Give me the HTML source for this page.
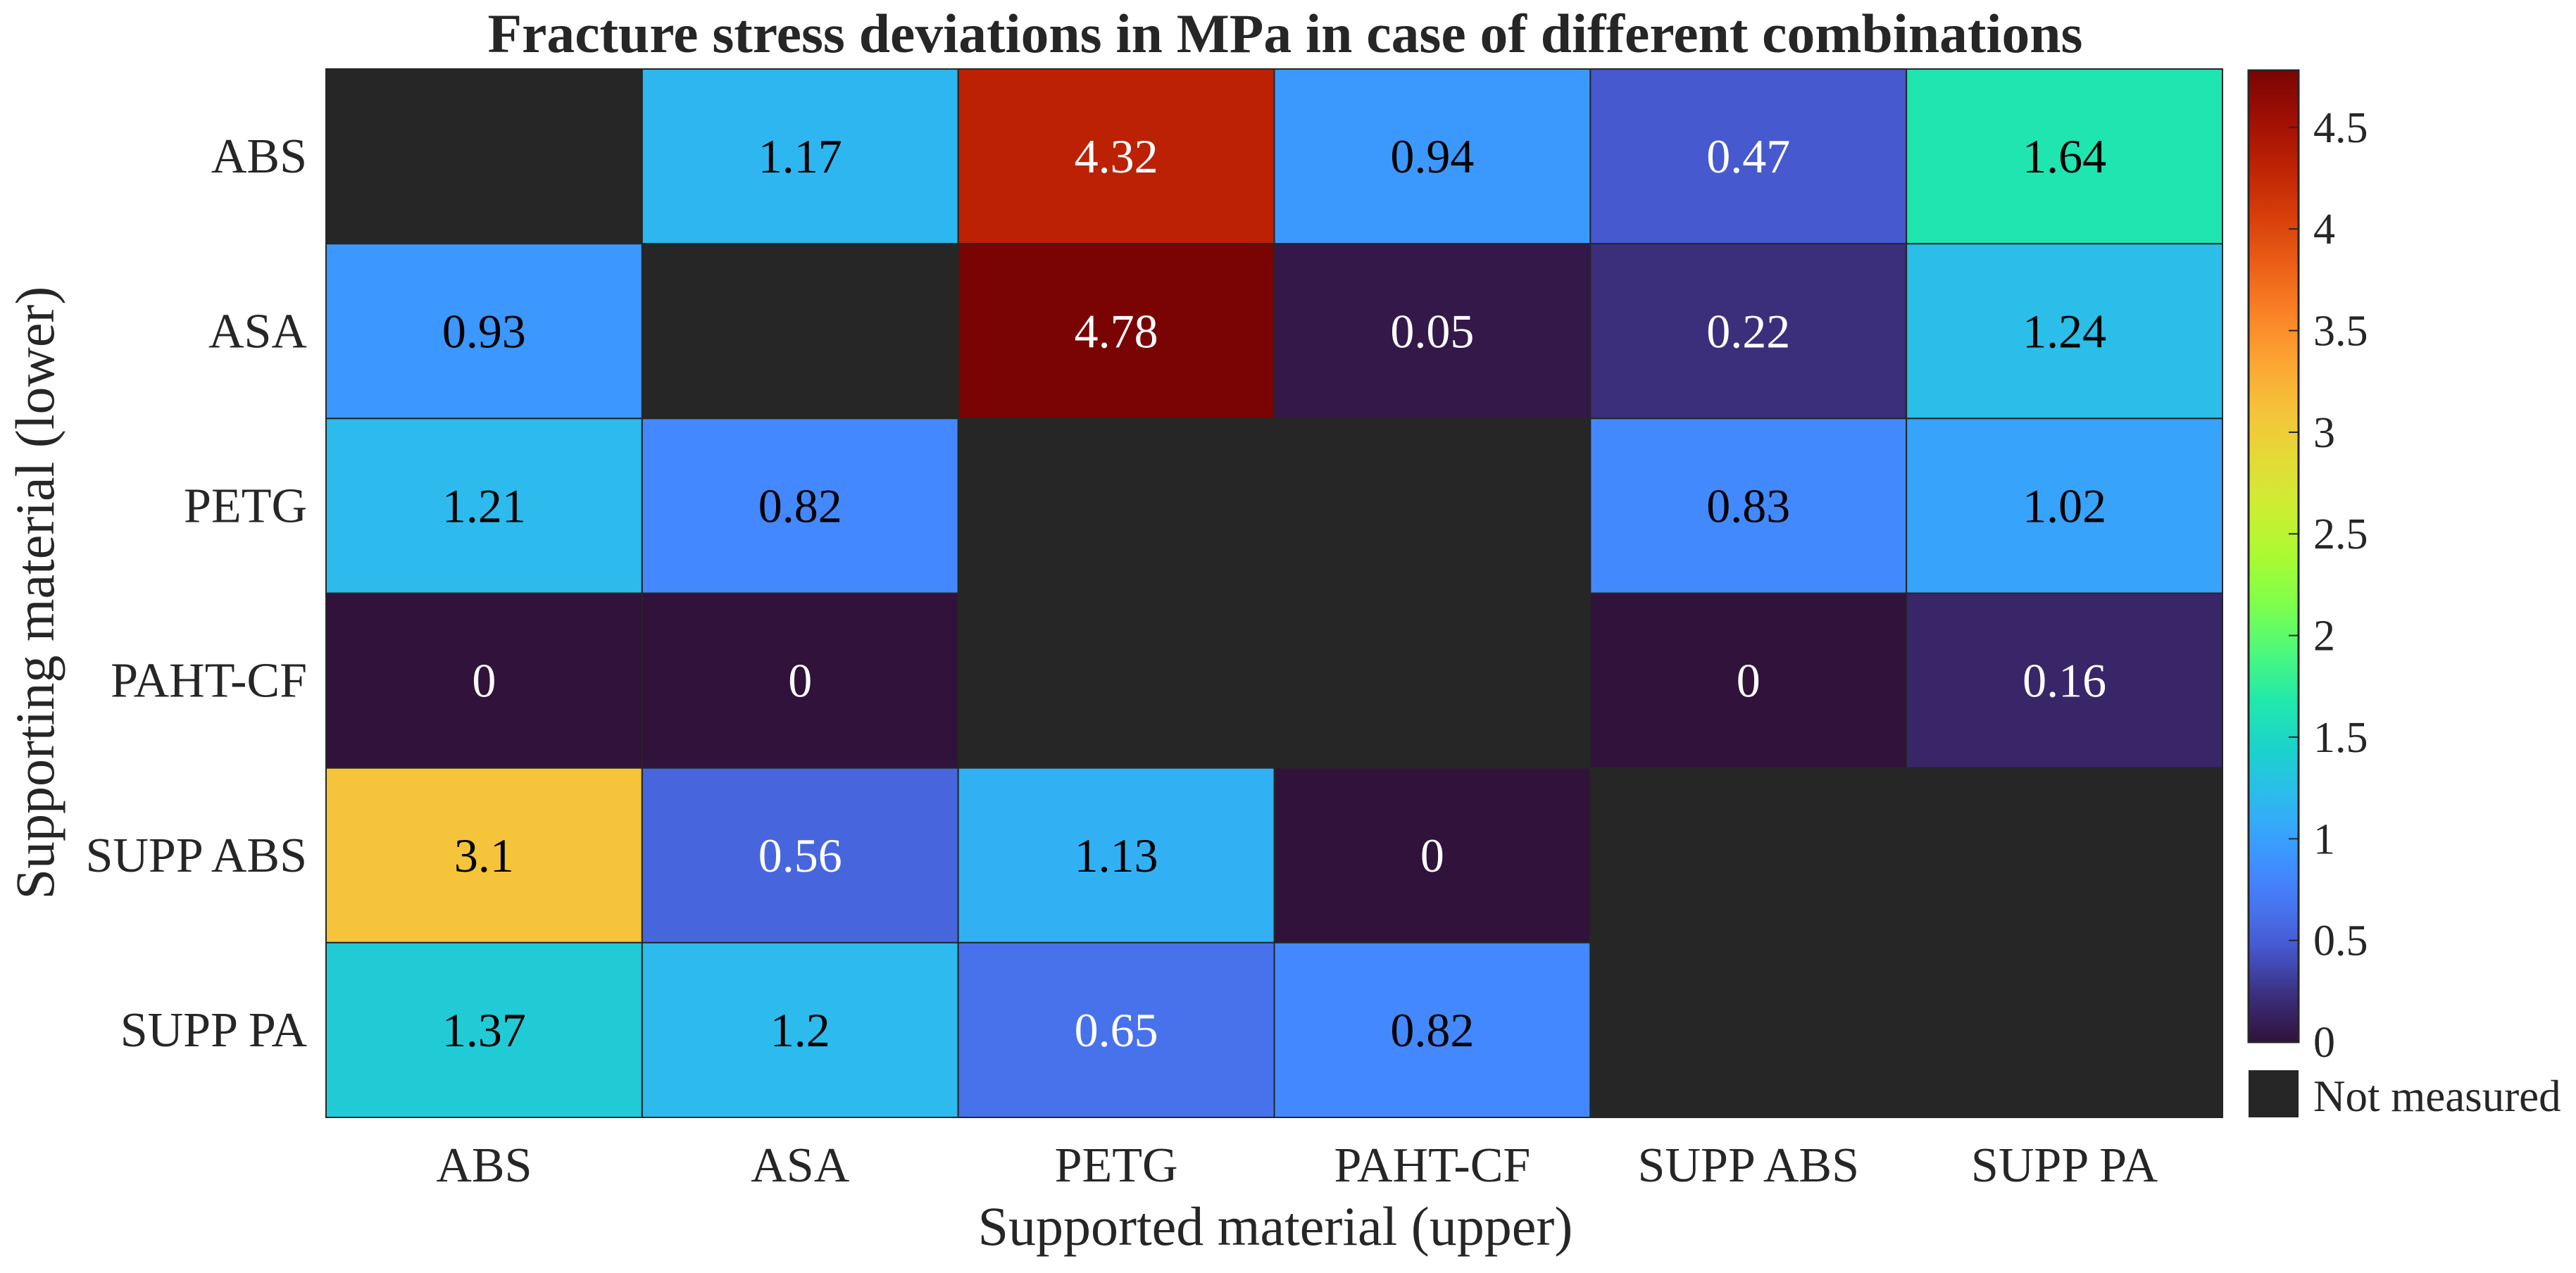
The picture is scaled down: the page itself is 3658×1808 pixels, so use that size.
<!DOCTYPE html>
<html><head><meta charset="utf-8"><style>
html,body{margin:0;padding:0;background:#fff;}
svg{display:block;font-family:"Liberation Serif",serif;}
</style></head><body>
<svg id="chart" width="3658" height="1808" viewBox="0 0 3658 1808" xmlns="http://www.w3.org/2000/svg">
<defs><linearGradient id="cbgrad" x1="0" y1="1" x2="0" y2="0"></linearGradient></defs>
<text x="1825" y="74" text-anchor="middle" font-weight="bold" font-size="78" textLength="2265" lengthAdjust="spacingAndGlyphs" fill="#262626">Fracture stress deviations in MPa in case of different combinations</text>
<g id="cells"></g>
<g id="ylabels"></g>
<g id="xlabels"></g>
<text x="1811" y="1768" text-anchor="middle" font-size="78" fill="#262626">Supported material (upper)</text>
<text transform="translate(76,842) rotate(-90)" text-anchor="middle" font-size="78" fill="#262626">Supporting material (lower)</text>
<rect x="3193" y="100" width="71" height="1380" fill="url(#cbgrad)" stroke="#262626" stroke-width="3"/>
<g id="cbticks"></g>
<rect x="3193" y="1520" width="71" height="67" fill="#262626"/>
<text x="3285" y="1578" font-size="63" fill="#262626">Not measured</text>
</svg>
<script>
const rowLabels = ["ABS","ASA","PETG","PAHT-CF","SUPP ABS","SUPP PA"];
const colLabels = ["ABS","ASA","PETG","PAHT-CF","SUPP ABS","SUPP PA"];
const row0 = [null,1.17,4.32,0.94,0.47,1.64];
const row1 = [0.93,null,4.78,0.05,0.22,1.24];
const row2 = [1.21,0.82,null,null,0.83,1.02];
const row3 = [0,0,null,null,0,0.16];
const row4 = [3.1,0.56,1.13,0,null,null];
const row5 = [1.37,1.2,0.65,0.82,null,null];
const cbTicks = [0,0.5,1,1.5,2,2.5,3,3.5,4,4.5];
const cmin = 0, cmax = 4.78;

const NS="http://www.w3.org/2000/svg";
const L=463,R=3156,T=98,B=1587;
const rows=[row0,row1,row2,row3,row4,row5];
const cw=(R-L)/colLabels.length, rh=(B-T)/rowLabels.length;
const xPos=i=>L+i*cw, yPos=j=>T+j*rh;
const CB_T=100,CB_B=1480;
const cbY=v=>CB_B-(v-cmin)/(cmax-cmin)*(CB_B-CB_T);
const cmapPos=[0,0.05,0.1,0.125,0.15,0.175,0.2,0.225,0.25,0.3,0.35,0.4,0.45,0.5,0.55,0.6,0.65,0.7,0.75,0.8,0.85,0.9,0.95,1];
const cmapCol=[[48,18,59],[60,48,128],[70,90,210],[71,108,228],[70,122,245],[66,138,255],[58,155,254],[52,170,248],[45,185,238],[28,210,205],[32,232,172],[75,248,125],[125,255,75],[170,250,50],[205,238,50],[228,218,55],[245,195,58],[252,165,50],[250,130,38],[235,95,22],[215,62,10],[190,35,4],[160,15,3],[122,4,3]];
function cmap(x){x=Math.max(0,Math.min(1,x));
 for(let k=1;k<cmapPos.length;k++){if(x<=cmapPos[k]){const t=(x-cmapPos[k-1])/(cmapPos[k]-cmapPos[k-1]);
  return cmapCol[k].map((c,m)=>Math.round(cmapCol[k-1][m]+(c-cmapCol[k-1][m])*t));}}
 return cmapCol[cmapCol.length-1];}
function mk(tag,attrs,parent){const e=document.createElementNS(NS,tag);for(const k in attrs)e.setAttribute(k,attrs[k]);parent.appendChild(e);return e;}
const cells=document.getElementById('cells');
rows.forEach((row,j)=>row.forEach((v,i)=>{
 let fill='#262626',rgb=null;
 if(v!==null){rgb=cmap((v-cmin)/(cmax-cmin));fill='rgb('+rgb.join(',')+')';}
 const r=mk('rect',{x:xPos(i),y:yPos(j),width:cw,height:rh,fill:fill,stroke:'#262626','stroke-width':2},cells);
 
 
 if(v!==null){
  const lum=(0.299*rgb[0]+0.587*rgb[1]+0.114*rgb[2])/255;
  const t=mk('text',{x:xPos(i)+cw/2,y:yPos(j)+rh/2+23,'text-anchor':'middle','font-size':68,fill:lum>0.48?'#000':'#fff'},cells);
  
  
  t.textContent=String(v);
 }
}));
const yl=document.getElementById('ylabels');
rowLabels.forEach((s,j)=>{const t=mk('text',{x:436,y:yPos(j)+rh/2+23,'text-anchor':'end','font-size':70,fill:'#262626'},yl);
 
 
 t.textContent=s;});
const xl=document.getElementById('xlabels');
colLabels.forEach((s,i)=>{const t=mk('text',{x:xPos(i)+cw/2,y:1678,'text-anchor':'middle','font-size':70,fill:'#262626'},xl);
 
 
 t.textContent=s;});
const grad=document.getElementById('cbgrad');
for(let k=0;k<=60;k++){const rgb=cmap(k/60);mk('stop',{offset:(k/60),'stop-color':'rgb('+rgb.join(',')+')'},grad);}
const cbt=document.getElementById('cbticks');
cbTicks.forEach(v=>{const y=cbY(v);
 const ln=mk('line',{x1:3250,x2:3264,y1:y,y2:y,stroke:'#262626','stroke-width':2},cbt);
 
 
 const t=mk('text',{x:3285,y:y+21,'font-size':62,fill:'#262626'},cbt);
 
 
 t.textContent=String(v);});
</script>
</body></html>
